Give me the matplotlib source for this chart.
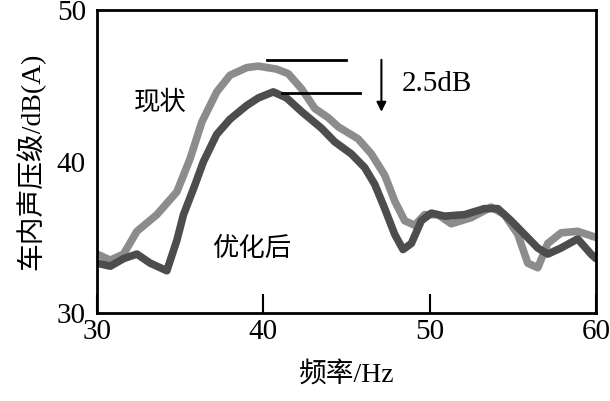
import matplotlib
matplotlib.use("Agg")
import matplotlib.pyplot as plt

plt.rcParams['font.family'] = ['Liberation Serif', 'Noto Sans CJK SC']

freq_now = [30.0, 30.8, 31.6, 32.4, 33.6, 34.8, 35.6, 36.3, 37.2, 38.0, 39.0, 39.7, 40.8, 41.5,
            42.3, 43.1, 43.9, 44.5, 45.7, 46.5, 47.3, 47.9, 48.5, 49.1, 49.7, 50.5, 51.3,
            52.5, 53.7, 54.5, 55.3, 55.9, 56.5, 57.1, 57.9, 58.9, 60.0]
spl_now = [33.9, 33.5, 33.9, 35.4, 36.5, 38.0, 40.2, 42.6, 44.6, 45.7, 46.2, 46.3, 46.1, 45.8,
           44.8, 43.5, 42.9, 42.3, 41.5, 40.5, 39.1, 37.4, 36.1, 35.8, 36.5, 36.5, 35.9,
           36.3, 37.0, 36.5, 35.2, 33.3, 33.0, 34.6, 35.3, 35.4, 35.0]

freq_opt = [30.0, 30.8, 31.6, 32.4, 33.2, 34.2, 34.8, 35.2, 35.8, 36.4, 37.2, 38.0, 39.0, 39.7,
            40.6, 41.4, 42.3, 43.5, 44.3, 45.3, 46.1, 46.7, 47.3, 47.9, 48.4, 48.9, 49.5,
            50.1, 50.9, 52.1, 53.3, 54.1, 54.9, 55.7, 56.5, 57.1, 57.9, 58.9, 59.7, 60.0]
spl_opt = [33.3, 33.1, 33.6, 33.9, 33.3, 32.8, 34.8, 36.5, 38.2, 40.0, 41.8, 42.8, 43.7, 44.2,
           44.6, 44.2, 43.3, 42.2, 41.3, 40.5, 39.6, 38.5, 36.9, 35.2, 34.2, 34.6, 36.1,
           36.6, 36.4, 36.5, 36.9, 36.9, 36.1, 35.2, 34.3, 33.9, 34.3, 34.9, 33.9, 33.6]

x_ticks = [30, 40, 50, 60]
y_ticks = [30, 40, 50]

fig = plt.figure(figsize=(6.1, 4.01), dpi=100)
ax = fig.add_axes([0.159, 0.219, 0.818, 0.756])

ax.plot(freq_now, spl_now, color='#8c8c8c', lw=5.5, solid_joinstyle='round', solid_capstyle='round')
ax.plot(freq_opt, spl_opt, color='#4d4d4d', lw=5.5, solid_joinstyle='round', solid_capstyle='round')

# annotations
ax.plot([40.2, 45.0], [46.7, 46.7], color='black', lw=2)
ax.plot([41.1, 45.8], [44.5, 44.5], color='black', lw=2)
ax.annotate('', xy=(47.1, 43.1), xytext=(47.1, 46.9),
            arrowprops=dict(arrowstyle='-|>', color='black', lw=1.5, mutation_scale=14))
ax.text(48.3, 45.1, '2.5dB', fontsize=21, va='center', ha='left')
ax.text(33.8, 43.9, '现状', fontsize=19, va='center', ha='center', family=['Noto Sans CJK SC'])
ax.text(39.3, 34.3, '优化后', fontsize=19, va='center', ha='center', family=['Noto Sans CJK SC'])

ax.set_xlim(30, 60)
ax.set_ylim(30, 50)
ax.set_xticks(x_ticks)
ax.set_yticks(y_ticks)
ax.set_xticklabels([str(t) for t in x_ticks], fontsize=21)
ax.set_yticklabels([str(t) for t in y_ticks], fontsize=21)
ax.tick_params(axis='x', direction='in', length=14, width=1.5, pad=4)
ax.tick_params(axis='y', length=0, pad=8)
for s in ax.spines.values():
    s.set_linewidth(2)

ax.set_xlabel('频率/Hz', fontsize=20, labelpad=12)
ax.set_ylabel('车内声压级/dB(A)', fontsize=20, labelpad=8)

fig.savefig('out.png', dpi=100)
